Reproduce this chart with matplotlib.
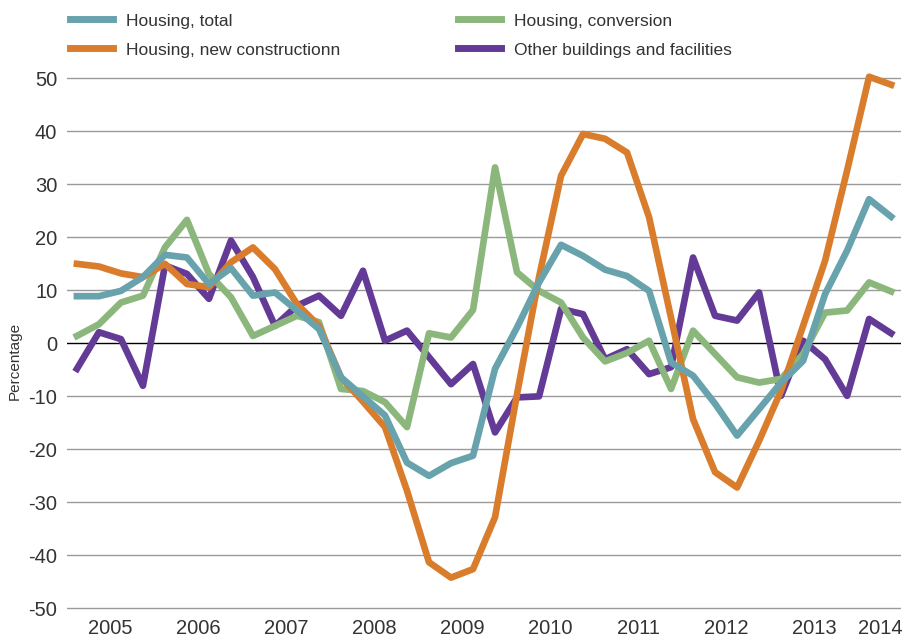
import matplotlib.pyplot as plt

years = ['2005', '2006', '2007', '2008', '2009', '2010', '2011', '2012', '2013', '2014']

housing_total = [8.9, 8.9, 9.9, 12.5, 16.7, 16.2, 11.2, 14.2, 9.0, 9.6, 6.2, 2.7,
                 -6.4, -10.0, -13.6, -22.5, -25.0, -22.6, -21.2, -4.8, 3.0, 11.5, 18.6, 16.5,
                 13.9, 12.7, 9.9, -3.6, -6.1, -11.4, -17.4, -12.4, -7.4, -3.3, 9.3, 17.5,
                 27.2, 23.9]
housing_new = [15.0, 14.5, 13.2, 12.5, 15.0, 11.2, 10.6, 15.3, 18.1, 14.0, 7.4, 3.3,
               -6.4, -11.0, -15.8, -27.8, -41.3, -44.2, -42.6, -32.8, -9.6, 12.5, 31.6, 39.5,
               38.6, 36.0, 23.8, 4.8, -14.3, -24.3, -27.2, -18.4, -8.9, 3.3, 15.6, 32.6,
               50.3, 48.8]
housing_conv = [1.4, 3.6, 7.7, 9.0, 18.1, 23.3, 13.1, 8.7, 1.4, 3.3, 5.2, 4.0,
                -8.6, -9.0, -11.1, -15.8, 1.9, 1.1, 6.3, 33.2, 13.4, 9.9, 7.7, 1.1,
                -3.4, -1.8, 0.5, -8.6, 2.4, -2.0, -6.4, -7.4, -6.7, -2.0, 5.8, 6.2,
                11.5, 9.8]
other_buildings = [-4.8, 2.1, 0.8, -8.0, 14.7, 13.1, 8.4, 19.4, 12.5, 3.3, 7.1, 9.0,
                   5.2, 13.7, 0.5, 2.4, -2.6, -7.7, -3.9, -16.8, -10.2, -10.0, 6.5, 5.5,
                   -3.0, -1.1, -5.8, -4.5, 16.2, 5.2, 4.3, 9.6, -9.9, 0.5, -3.0, -9.9,
                   4.6, 1.9]

plt.rcParams['font.family'] = ['Liberation Sans', 'DejaVu Sans']

fig = plt.figure(figsize=(9.07, 6.37), dpi=100)
ax = fig.add_axes([0.0739, 0.0283, 0.9195, 0.882])

x = list(range(len(housing_total)))
lw = 4.8
ax.plot(x, housing_total, color='#68A3AD', lw=lw, zorder=5, label='Housing, total')
ax.plot(x, housing_new, color='#D97D2D', lw=lw, zorder=4, label='Housing, new constructionn')
ax.plot(x, housing_conv, color='#8BB77C', lw=lw, zorder=3, label='Housing, conversion')
ax.plot(x, other_buildings, color='#633B96', lw=lw, zorder=2, label='Other buildings and facilities')

ax.set_xlim(-0.45, 37.45)
ax.set_ylim(-52, 54)

yt = list(range(-50, 51, 10))
ax.set_yticks(yt)
ax.set_yticklabels([str(v) for v in yt])
for v in yt:
    ax.axhline(v, color='black' if v == 0 else '#9a9a9a', lw=1.0, zorder=1)

# year labels centred on each year's quarters
xt = [i * 4 + 1.5 for i in range(len(years) - 1)] + [36.5]
ax.set_xticks(xt)
ax.set_xticklabels(years)

ax.tick_params(axis='both', length=0, labelsize=14.5, colors='#333333')
ax.tick_params(axis='y', pad=7)
ax.tick_params(axis='x', pad=0)
for s in ax.spines.values():
    s.set_visible(False)

ax.set_ylabel('Percentage', fontsize=11, color='#333333')
ax.yaxis.set_label_coords(-0.054, 0.46)

fig.legend(loc='upper left', bbox_to_anchor=(0.077, 0.979), ncol=2, frameon=False,
           fontsize=12.5, handlelength=2.5, handleheight=0.7, handletextpad=0.75,
           columnspacing=6.75, labelspacing=0.8, borderaxespad=0, borderpad=0,
           labelcolor='#333333')
for line in fig.legends[0].get_lines():
    line.set_linewidth(5)

fig.savefig('out.png', dpi=100)
